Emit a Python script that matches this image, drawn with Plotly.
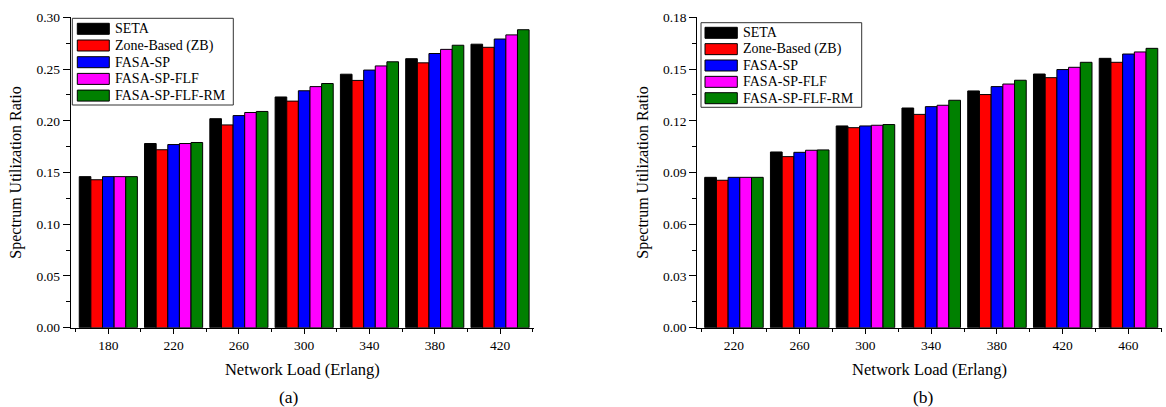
import plotly.graph_objects as go

W, H = 1166, 407

series_names = ["SETA", "Zone-Based (ZB)", "FASA-SP", "FASA-SP-FLF", "FASA-SP-FLF-RM"]
series_colors = ["#000000", "#FF0000", "#0000FF", "#FF00FF", "#008000"]

# Panel (a)
loads_a = [180, 220, 260, 300, 340, 380, 420]
seta_a = [0.146, 0.178, 0.202, 0.223, 0.245, 0.260, 0.274]
zb_a = [0.143, 0.172, 0.196, 0.219, 0.239, 0.256, 0.271]
sp_a = [0.146, 0.177, 0.205, 0.229, 0.249, 0.265, 0.279]
flf_a = [0.146, 0.178, 0.208, 0.233, 0.253, 0.269, 0.283]
rm_a = [0.146, 0.179, 0.209, 0.236, 0.257, 0.273, 0.288]

# Panel (b)
loads_b = [220, 260, 300, 340, 380, 420, 460]
seta_b = [0.0872, 0.1019, 0.1170, 0.1274, 0.1373, 0.1471, 0.1562]
zb_b = [0.0855, 0.0992, 0.1160, 0.1237, 0.1352, 0.1450, 0.1539]
sp_b = [0.0872, 0.1017, 0.1170, 0.1282, 0.1398, 0.1497, 0.1587]
flf_b = [0.0872, 0.1029, 0.1174, 0.1290, 0.1413, 0.1510, 0.1599]
rm_b = [0.0872, 0.1031, 0.1178, 0.1319, 0.1435, 0.1539, 0.1620]

x_title = "Network Load (Erlang)"
y_title = "Spectrum Utilization Ratio"

FONT = "Liberation Serif"


def px_x(p):
    return p / W


def px_y(p):
    return 1 - p / H


fig = go.Figure()

panels = [
    (loads_a, [seta_a, zb_a, sp_a, flf_a, rm_a], "x", "y"),
    (loads_b, [seta_b, zb_b, sp_b, flf_b, rm_b], "x2", "y2"),
]
for pi, (loads, vals, xa, ya) in enumerate(panels):
    for si, (name, col, v) in enumerate(zip(series_names, series_colors, vals)):
        fig.add_trace(go.Bar(
            x=loads, y=v, name=name, xaxis=xa, yaxis=ya,
            marker=dict(color=col, line=dict(color="black", width=1)),
            offsetgroup=str(si), showlegend=False,
        ))


def mids(loads):
    return [loads[0] - 20] + [(a + b) / 2 for a, b in zip(loads[:-1], loads[1:])] + [loads[-1] + 20]


common_x = dict(
    showline=True, linecolor="black", linewidth=1, ticks="outside", ticklen=5,
    tickcolor="black", tickwidth=1, showgrid=False, zeroline=False, automargin=False,
    tickfont=dict(family=FONT, size=13.5, color="black"),
    title=dict(text=x_title, font=dict(family=FONT, size=16.5, color="black"), standoff=11),
)
common_y = dict(
    showline=True, linecolor="black", linewidth=1, ticks="outside", ticklen=7,
    tickcolor="black", tickwidth=1, showgrid=False, zeroline=False, automargin=False,
    tickfont=dict(family=FONT, size=13.5, color="black"), tickformat=".2f",
    title=dict(text=y_title, font=dict(family=FONT, size=16, color="black"), standoff=10),
    domain=[px_y(327.7), px_y(17.3)],
)

fig.update_layout(
    width=W, height=H,
    margin=dict(l=0, r=0, t=0, b=0),
    paper_bgcolor="white", plot_bgcolor="white",
    font=dict(family=FONT, color="black"),
    barmode="group", bargap=0.11, bargroupgap=0,
    xaxis=dict(common_x, domain=[px_x(70.7), px_x(534)], range=[156.96, 440.8],
               tickvals=loads_a, ticktext=[str(v) for v in loads_a],
               minor=dict(tickvals=mids(loads_a), ticklen=3, ticks="outside", tickcolor="black")),
    yaxis=dict(common_y, anchor="x", range=[0, 0.30], dtick=0.05, tick0=0,
               minor=dict(dtick=0.025, tick0=0, ticklen=4, ticks="outside", tickcolor="black")),
    xaxis2=dict(common_x, domain=[px_x(697.3), px_x(1161.7)], range=[197.7, 480.2], anchor="y2",
                tickvals=loads_b, ticktext=[str(v) for v in loads_b],
                minor=dict(tickvals=mids(loads_b), ticklen=3, ticks="outside", tickcolor="black")),
    yaxis2=dict(common_y, anchor="x2", range=[0, 0.18], dtick=0.03, tick0=0,
                minor=dict(dtick=0.015, tick0=0, ticklen=4, ticks="outside", tickcolor="black")),
)

# Manual legends (wide swatches as in the reference)
legend_specs = [
    dict(box=(72.3, 18.3, 233.3, 105.0), sw_x=(77.3, 109.3), text_x=113.3, y0=28.8, dy=16.7),
    dict(box=(701.0, 22.7, 861.7, 107.3), sw_x=(705.0, 737.3), text_x=741.0, y0=32.8, dy=16.35),
]
shapes = []
annotations = []
for spec in legend_specs:
    bx0, by0, bx1, by1 = spec["box"]
    shapes.append(dict(type="rect", xref="paper", yref="paper",
                       x0=px_x(bx0), x1=px_x(bx1), y0=px_y(by1), y1=px_y(by0),
                       line=dict(color="#333333", width=1), fillcolor="white", layer="above"))
    for i, (name, col) in enumerate(zip(series_names, series_colors)):
        cy = spec["y0"] + i * spec["dy"]
        shapes.append(dict(type="rect", xref="paper", yref="paper",
                           x0=px_x(spec["sw_x"][0]), x1=px_x(spec["sw_x"][1]),
                           y0=px_y(cy + 5.5), y1=px_y(cy - 5.5),
                           line=dict(color="black", width=1), fillcolor=col, layer="above"))
        annotations.append(dict(xref="paper", yref="paper", x=px_x(spec["text_x"]), y=px_y(cy),
                                text=name, showarrow=False, xanchor="left", yanchor="middle",
                                font=dict(family=FONT, size=14, color="black")))

annotations.append(dict(xref="paper", yref="paper", x=px_x(289), y=px_y(396.5), text="(a)",
                        showarrow=False, xanchor="center", yanchor="middle",
                        font=dict(family=FONT, size=17.5, color="black")))
annotations.append(dict(xref="paper", yref="paper", x=px_x(923), y=px_y(396.5), text="(b)",
                        showarrow=False, xanchor="center", yanchor="middle",
                        font=dict(family=FONT, size=17.5, color="black")))

fig.update_layout(shapes=shapes, annotations=annotations)

fig.write_html("out.html", config={"displayModeBar": False},
               post_script="document.body.style.margin='0';document.body.style.overflow='hidden';")
